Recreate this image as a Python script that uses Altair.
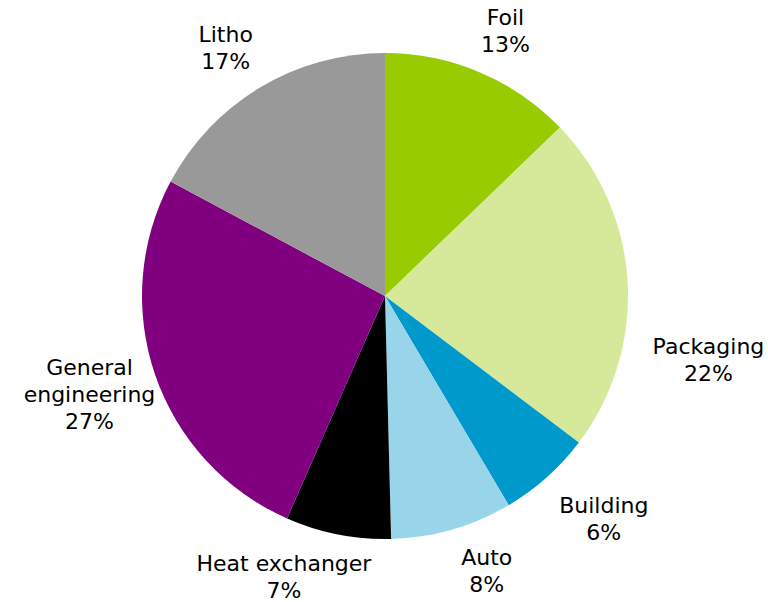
import altair as alt
import pandas as pd

categories = ["Foil", "Packaging", "Building", "Auto", "Heat exchanger", "General engineering", "Litho"]
shares = [12.8, 22.5, 6.2, 8.1, 7.0, 26.2, 17.2]          # slice sizes
label_pct = [13, 22, 6, 8, 7, 27, 17]                      # percentages printed on the chart
label_text = ["Foil", "Packaging", "Building", "Auto", "Heat exchanger", "General\nengineering", "Litho"]
colors = ["#99cc00", "#d6e99a", "#0099cc", "#99d5ea", "#000000", "#800080", "#999999"]

# per-label nudges (px) from the default outside position
nudges = {
    "Foil": (3, -2),
    "Packaging": (24, 69),
    "Building": (19, -14),
    "Auto": (19, -26),
    "Heat exchanger": (-43, -26),
    "General engineering": (-12, -26),
    "Litho": (-5, -4),
}

df = pd.DataFrame({
    "category": categories,
    "share": shares,
    "order": list(range(len(categories))),
    "label": [f"{t}\n{v}%" for t, v in zip(label_text, label_pct)],
})

theta = alt.Theta("share:Q", stack=True)
order = alt.Order("order:Q")

pie = alt.Chart(df).mark_arc(outerRadius=243).encode(
    theta=theta,
    order=order,
    color=alt.Color("category:N", scale=alt.Scale(domain=categories, range=colors), legend=None),
)

layers = [pie]
for cat in categories:
    dx, dy = nudges[cat]
    layers.append(
        alt.Chart(df).mark_text(
            radius=300, font="DejaVu Sans", fontSize=22, lineBreak="\n", lineHeight=27,
            color="black", align="center", baseline="middle", dx=dx, dy=dy,
        ).encode(
            theta=theta,
            order=order,
            text="label:N",
            opacity=alt.condition(alt.datum.category == cat, alt.value(1), alt.value(0)),
        )
    )

chart = alt.layer(*layers).properties(
    width=766, height=592,
    padding={"left": 2, "right": 0, "top": 0, "bottom": 10},
    autosize=alt.AutoSizeParams(type="none"),
    background="white",
).configure_view(stroke=None)

chart.save("out.html", embed_options={"renderer": "svg", "actions": False})
